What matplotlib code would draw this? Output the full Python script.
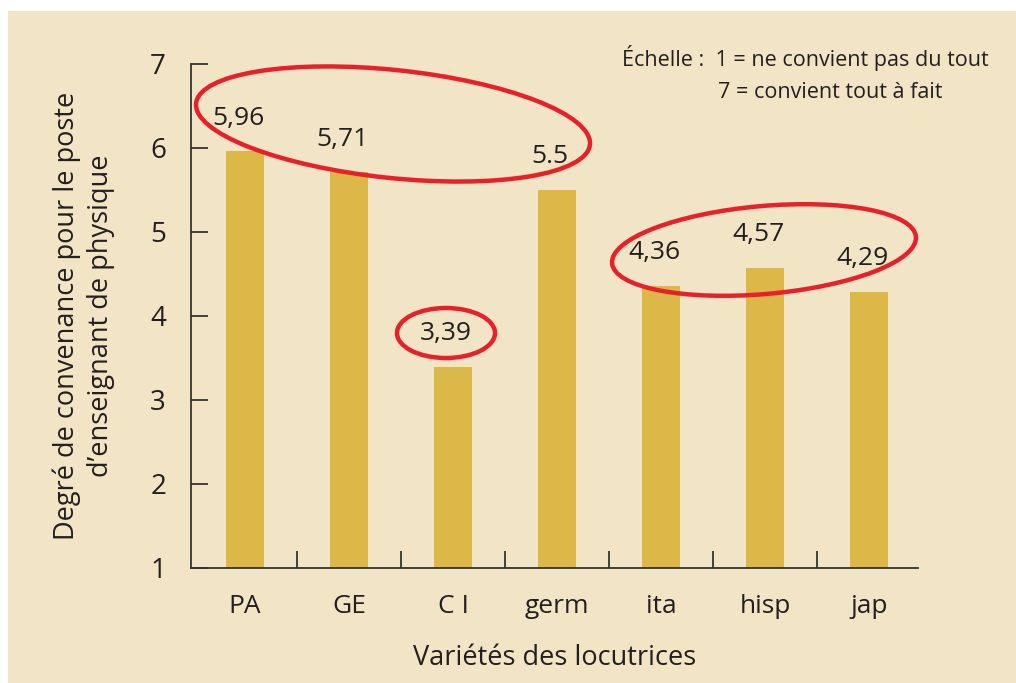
import matplotlib.pyplot as plt
import numpy as np
from matplotlib.patches import Ellipse, Rectangle

categories = ["PA", "GE", "C I", "germ", "ita", "hisp", "jap"]
values = [5.96, 5.71, 3.39, 5.5, 4.36, 4.57, 4.29]
value_labels = ["5,96", "5,71", "3,39", "5.5", "4,36", "4,57", "4,29"]
yticks = [1, 2, 3, 4, 5, 6, 7]

plt.rcParams['font.family'] = ['Open Sans', 'DejaVu Sans']
text_color = '#231f20'
bg = '#f2e5c5'
bar_color = '#dcb848'
red = '#e8202a'

fig = plt.figure(figsize=(10.16, 6.83), dpi=100)
fig.patches.append(Rectangle((8 / 1016, 0), 1, 1 - 11 / 683, transform=fig.transFigure,
                             facecolor=bg, edgecolor='none', zorder=-10))

ax = fig.add_axes([191 / 1016, 1 - 568 / 683, (918 - 191) / 1016, (568 - 64) / 683])
ax.set_facecolor('none')

x = np.arange(len(categories))
ax.bar(x, values, width=0.36, bottom=0, color=bar_color, zorder=2)

ax.set_xlim(-0.52, 6.47)
ax.set_ylim(1, 7)
ax.set_yticks(yticks)
ax.set_xticks(x)
ax.set_xticklabels(categories)
ax.set_xticks(x[:-1] + 0.5, minor=True)

for s in ['top', 'right']:
    ax.spines[s].set_visible(False)
for s in ['left', 'bottom']:
    ax.spines[s].set_color('#333333')
    ax.spines[s].set_linewidth(1.3)

ax.tick_params(axis='y', direction='in', length=12, width=1.3, color='#333333',
               labelsize=20, labelcolor=text_color, pad=18)
ax.tick_params(axis='x', which='major', length=0, labelsize=19, labelcolor=text_color, pad=19)
ax.tick_params(axis='x', which='minor', direction='in', length=12, width=1.3, color='#333333')

for xi, v, lab in zip(x, values, value_labels):
    ax.annotate(lab, (xi, v), xytext=(-5, 24), textcoords='offset points',
                ha='center', va='center', fontsize=19, color=text_color)

ax.set_xlabel("Variétés des locutrices", fontsize=19.5, color=text_color, labelpad=18)
ax.set_ylabel("Degré de convenance pour le poste\nd\u2019enseignant de physique",
              fontsize=19.5, color=text_color, labelpad=25, linespacing=1.3)

fig.text(622 / 1016, 1 - 58 / 683, "Échelle :  1 = ne convient pas du tout",
         fontsize=15.5, color=text_color, va='center', ha='left')
fig.text(718 / 1016, 1 - 92 / 683, "7 = convient tout à fait",
         fontsize=15.5, color=text_color, va='center', ha='left')

# red highlight ellipses (in inches, figure space)
for (cx, cy, w, h, ang) in [(393, 124, 396, 108, -6), (764, 250, 305, 88, 5), (446, 333, 98, 50, 0)]:
    e = Ellipse((cx / 100, (683 - cy) / 100), w / 100, h / 100, angle=ang,
                transform=fig.dpi_scale_trans, fill=False, edgecolor=red, linewidth=3.2)
    fig.patches.append(e)

fig.savefig('out.png', dpi=100)
